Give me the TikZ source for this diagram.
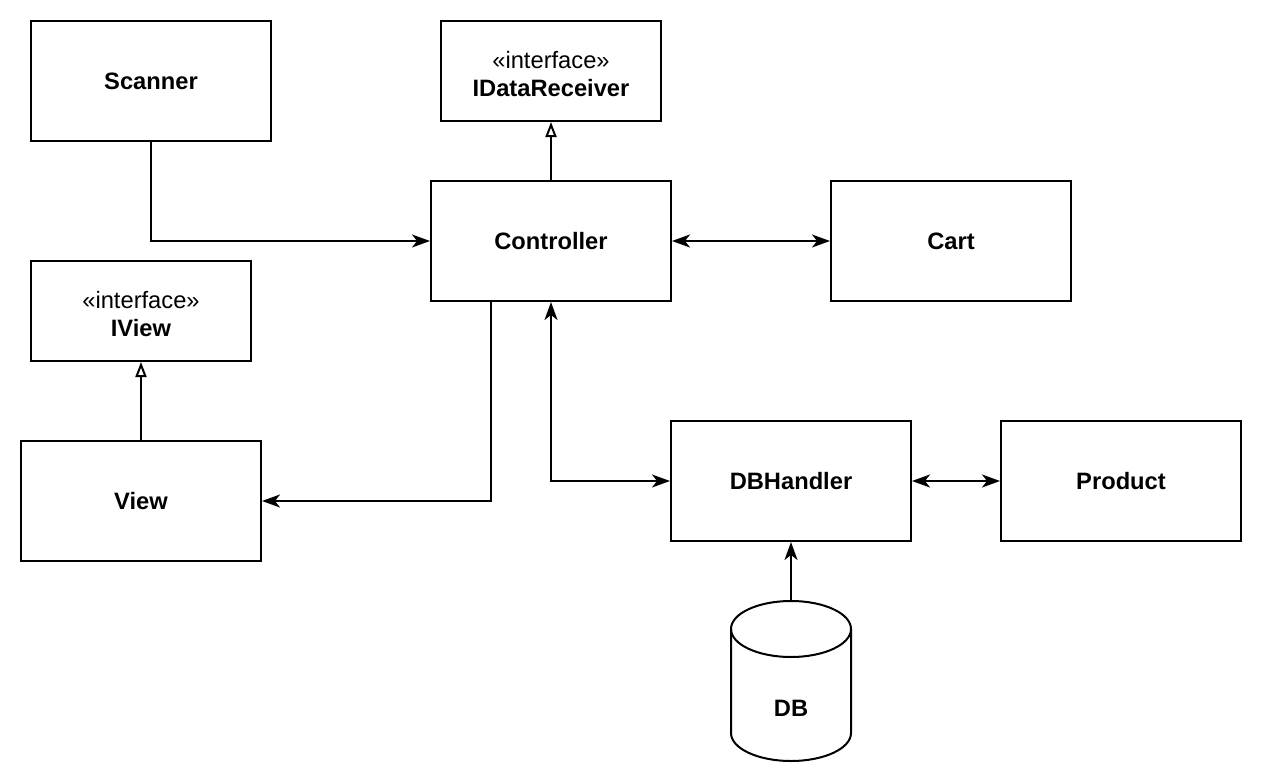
\documentclass[tikz,border=0pt]{standalone}
\usepackage{fontspec}
\setmainfont{Liberation Sans}
\usetikzlibrary{arrows.meta}
\begin{document}
\begin{tikzpicture}[x=1pt,y=-1pt,
  every node/.style={font=\fontsize{23.7}{27.5}\selectfont},
  cls/.style={draw, line width=2pt, minimum width=240pt, minimum height=120pt, inner sep=0pt, fill=white, font=\fontsize{23.7}{27.5}\selectfont\bfseries},
  iface/.style={draw, line width=2pt, minimum width=220pt, minimum height=100pt, inner sep=0pt, fill=white},
  ifacetext/.style={align=center, inner sep=0pt},
  conn/.style={line width=2pt},
  arr/.style={conn, -{Stealth[length=18pt,width=13pt,inset=5pt]}},
  biarr/.style={conn, {Stealth[length=18pt,width=13pt,inset=5pt]}-{Stealth[length=18pt,width=13pt,inset=5pt]}},
  real/.style={conn, -{Triangle[open,length=15pt,width=11pt,line width=2pt]}}
]
\useasboundingbox (0,0) rectangle (1262,784);
\node[cls] (scanner) at (151,81) {Scanner};
\node[iface] (idr) at (551,71) {};
\node[ifacetext] (idrtext) at (551,74) {«interface»\\\textbf{IDataReceiver}};
\node[cls] (ctrl) at (551,241) {Controller};
\node[cls] (cart) at (951,241) {Cart};
\node[iface] (iview) at (141,311) {};
\node[ifacetext] (iviewtext) at (141,314) {«interface»\\\textbf{IView}};
\node[cls] (view) at (141,501) {View};
\node[cls] (dbh) at (791,481) {DBHandler};
\node[cls] (product) at (1121,481) {Product};
% DB cylinder
\draw[line width=2pt, fill=white] (731,629) -- (731,733)
  arc[start angle=180, end angle=360, x radius=60, y radius=-28] -- (851,629)
  arc[start angle=0, end angle=180, x radius=60, y radius=-28] -- cycle;
\draw[line width=2pt] (731,629) arc[start angle=180, end angle=360, x radius=60, y radius=-28];
\coordinate (dbtop) at (791,601);
\node[font=\fontsize{23.7}{27.5}\selectfont\bfseries] (db) at (791,708) {DB};
% connectors
\draw[arr] (scanner.south) |- (ctrl.west);
\draw[real] (ctrl.north) -- (idr.south);
\draw[biarr] (ctrl.east) -- (cart.west);
\draw[real] (view.north) -- (iview.south);
\draw[arr] ([xshift=-60pt]ctrl.south) |- (view.east);
\draw[biarr] (ctrl.south) |- (dbh.west);
\draw[biarr] (dbh.east) -- (product.west);
\draw[arr] (dbtop) -- (dbh.south);
\end{tikzpicture}
\end{document}
